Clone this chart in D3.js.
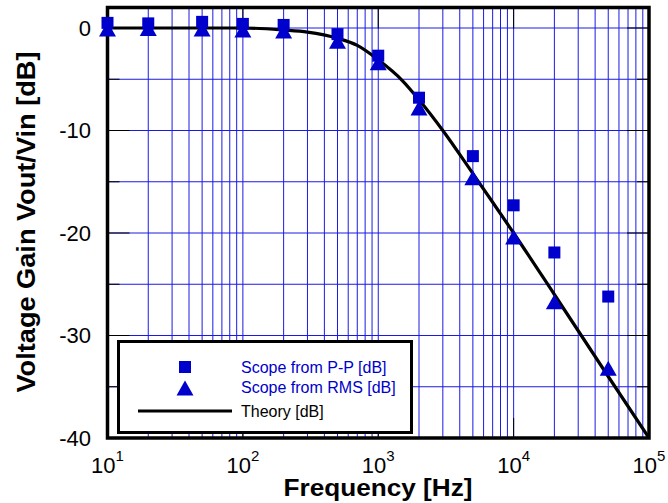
<!DOCTYPE html>
<html>
<head>
<meta charset="utf-8">
<script src="https://cdn.jsdelivr.net/npm/d3@7"></script>
<style>
  body { margin: 0; background: #fff; }
  text { font-family: "Liberation Sans", Arial, sans-serif; }
</style>
</head>
<body>
<div class="chart"></div>
<script>
// measured points
var freq = [10, 20, 50, 100, 200, 500, 1000, 2000, 5000, 10000, 20000, 50000];
var ppDb = [0.5, 0.45, 0.6, 0.4, 0.3, -0.6, -2.7, -6.8, -12.5, -17.3, -21.9, -26.2];
var rmsDb = [-0.1, -0.05, -0.1, -0.2, -0.3, -1.3, -3.4, -7.8, -14.6, -20.4, -26.7, -33.2];

// theory curve
var theoryFreq = [10, 20, 50, 100, 200, 300, 500, 700, 1000, 1500, 2000, 3000, 5000, 7000, 10000, 20000, 50000, 100000];
var theoryDb = [0, 0, 0, 0, -0.2, -0.4, -1.0, -1.7, -3.1, -5.1, -7.0, -10.0, -14.2, -17.0, -20.0, -26.0, -34.0, -40.0];

var yTicks = [0, -10, -20, -30, -40];
var yMinor = [-5, -15, -25, -35];
var xDecades = [1, 2, 3, 4, 5];

var legendLabels = ["Scope from P-P [dB]", "Scope from RMS [dB]", "Theory [dB]"];

var width = 668, height = 503;
var plotLeft = 107.5, plotRight = 649, plotTop = 7.5, plotBottom = 438;
var blue = "#0000cc";
var gridBlue = "#1a1ae6";

var svg = d3.select(".chart").append("svg")
  .attr("width", width)
  .attr("height", height);

var x = d3.scaleLog().domain([10, 1e5]).range([plotLeft, plotRight]);
var y = d3.scaleLinear().domain([-40, 2]).range([plotBottom, plotTop]);

svg.append("clipPath").attr("id", "plotclip")
  .append("rect")
  .attr("x", plotLeft).attr("y", plotTop)
  .attr("width", plotRight - plotLeft).attr("height", plotBottom - plotTop);

// grid
var grid = svg.append("g").attr("class", "grid");
var vlines = [];
for (var d = 10; d < 1e5; d *= 10) {
  for (var k = 1; k <= 9; k++) {
    if (d * k > 10) vlines.push(d * k);
  }
}
grid.selectAll("line.v")
  .data(vlines)
  .enter().append("line")
  .attr("class", "v")
  .attr("x1", function(v) { return x(v); })
  .attr("x2", function(v) { return x(v); })
  .attr("y1", plotTop).attr("y2", plotBottom)
  .attr("stroke", gridBlue)
  .attr("stroke-width", 1);

var hlines = d3.range(-35, 2, 5);
grid.selectAll("line.h")
  .data(hlines)
  .enter().append("line")
  .attr("class", "h")
  .attr("x1", plotLeft).attr("x2", plotRight)
  .attr("y1", function(v) { return y(v); })
  .attr("y2", function(v) { return y(v); })
  .attr("stroke", gridBlue)
  .attr("stroke-width", 1);

// ticks, inside on all four sides
var ticks = svg.append("g").attr("class", "ticks").attr("stroke", "#000").attr("stroke-width", 1);
function yTick(vals, len) {
  ticks.selectAll(null).data(vals).enter().append("line")
    .attr("x1", plotLeft).attr("x2", plotLeft + len)
    .attr("y1", function(v) { return y(v); }).attr("y2", function(v) { return y(v); });
  ticks.selectAll(null).data(vals).enter().append("line")
    .attr("x1", plotRight - len).attr("x2", plotRight)
    .attr("y1", function(v) { return y(v); }).attr("y2", function(v) { return y(v); });
}
yTick(yTicks, 22);
yTick(yMinor, 12);
ticks.selectAll(null).data(xDecades).enter().append("line")
  .attr("x1", function(p) { return x(Math.pow(10, p)); })
  .attr("x2", function(p) { return x(Math.pow(10, p)); })
  .attr("y1", plotTop).attr("y2", plotTop + 21);
ticks.selectAll(null).data(xDecades).enter().append("line")
  .attr("x1", function(p) { return x(Math.pow(10, p)); })
  .attr("x2", function(p) { return x(Math.pow(10, p)); })
  .attr("y1", plotBottom - 20).attr("y2", plotBottom);

// frame
svg.append("rect")
  .attr("x", plotLeft).attr("y", plotTop)
  .attr("width", plotRight - plotLeft).attr("height", plotBottom - plotTop)
  .attr("fill", "none")
  .attr("stroke", "#000")
  .attr("stroke-width", 3.5);

// theory line
var line = d3.line()
  .x(function(d) { return x(d[0]); })
  .y(function(d) { return y(d[1]); })
  .curve(d3.curveMonotoneX);

svg.append("path")
  .datum(d3.zip(theoryFreq, theoryDb))
  .attr("clip-path", "url(#plotclip)")
  .attr("d", line)
  .attr("fill", "none")
  .attr("stroke", "#000")
  .attr("stroke-width", 3.2);

// markers
var triPath = "M-8.5,7.5L8.5,7.5L0,-7.5Z";

svg.append("g").selectAll("path")
  .data(d3.zip(freq, rmsDb))
  .enter().append("path")
  .attr("transform", function(d) { return "translate(" + x(d[0]) + "," + y(d[1]) + ")"; })
  .attr("d", triPath)
  .attr("fill", blue);

svg.append("g").selectAll("rect")
  .data(d3.zip(freq, ppDb))
  .enter().append("rect")
  .attr("x", function(d) { return x(d[0]) - 6; })
  .attr("y", function(d) { return y(d[1]) - 6; })
  .attr("width", 12).attr("height", 12)
  .attr("fill", blue);

// legend
var lg = svg.append("g").attr("class", "legend");
lg.append("rect")
  .attr("x", 118.5).attr("y", 341.5)
  .attr("width", 293).attr("height", 91)
  .attr("fill", "#fff")
  .attr("stroke", "#000")
  .attr("stroke-width", 3);
lg.append("rect")
  .attr("x", 179).attr("y", 361)
  .attr("width", 12).attr("height", 12)
  .attr("fill", blue);
lg.append("path")
  .attr("transform", "translate(185,388)")
  .attr("d", triPath)
  .attr("fill", blue);
lg.append("line")
  .attr("x1", 138).attr("x2", 232)
  .attr("y1", 411).attr("y2", 411)
  .attr("stroke", "#000").attr("stroke-width", 3);
lg.selectAll("text")
  .data(legendLabels)
  .enter().append("text")
  .attr("x", 241)
  .attr("y", function(d, i) { return [372.5, 393, 416.5][i]; })
  .attr("font-size", "16px")
  .attr("fill", function(d, i) { return i < 2 ? blue : "#000"; })
  .text(function(d) { return d; });

// y tick labels
svg.append("g").selectAll("text")
  .data(yTicks)
  .enter().append("text")
  .attr("x", 91)
  .attr("y", function(v) { return y(v); })
  .attr("dy", "0.36em")
  .attr("text-anchor", "end")
  .attr("font-size", "22px")
  .text(function(v) { return v; });

// x tick labels 10^n
var xl = svg.append("g");
xl.selectAll("text.base")
  .data(xDecades)
  .enter().append("text")
  .attr("class", "base")
  .attr("x", function(p) { return x(Math.pow(10, p)) + 8; })
  .attr("y", 473)
  .attr("text-anchor", "end")
  .attr("font-size", "22px")
  .text("10");
xl.selectAll("text.sup")
  .data(xDecades)
  .enter().append("text")
  .attr("class", "sup")
  .attr("x", function(p) { return x(Math.pow(10, p)) + 8; })
  .attr("y", 461)
  .attr("font-size", "15px")
  .text(function(p) { return p; });

// axis titles
svg.append("text")
  .attr("x", 378)
  .attr("y", 496)
  .attr("text-anchor", "middle")
  .attr("font-size", "24px")
  .attr("font-weight", "bold")
  .attr("textLength", 189)
  .attr("lengthAdjust", "spacingAndGlyphs")
  .text("Frequency [Hz]");

svg.append("text")
  .attr("transform", "translate(35,222) rotate(-90)")
  .attr("text-anchor", "middle")
  .attr("font-size", "25px")
  .attr("font-weight", "bold")
  .attr("textLength", 341)
  .attr("lengthAdjust", "spacingAndGlyphs")
  .text("Voltage Gain Vout/Vin [dB]");
</script>
</body>
</html>
